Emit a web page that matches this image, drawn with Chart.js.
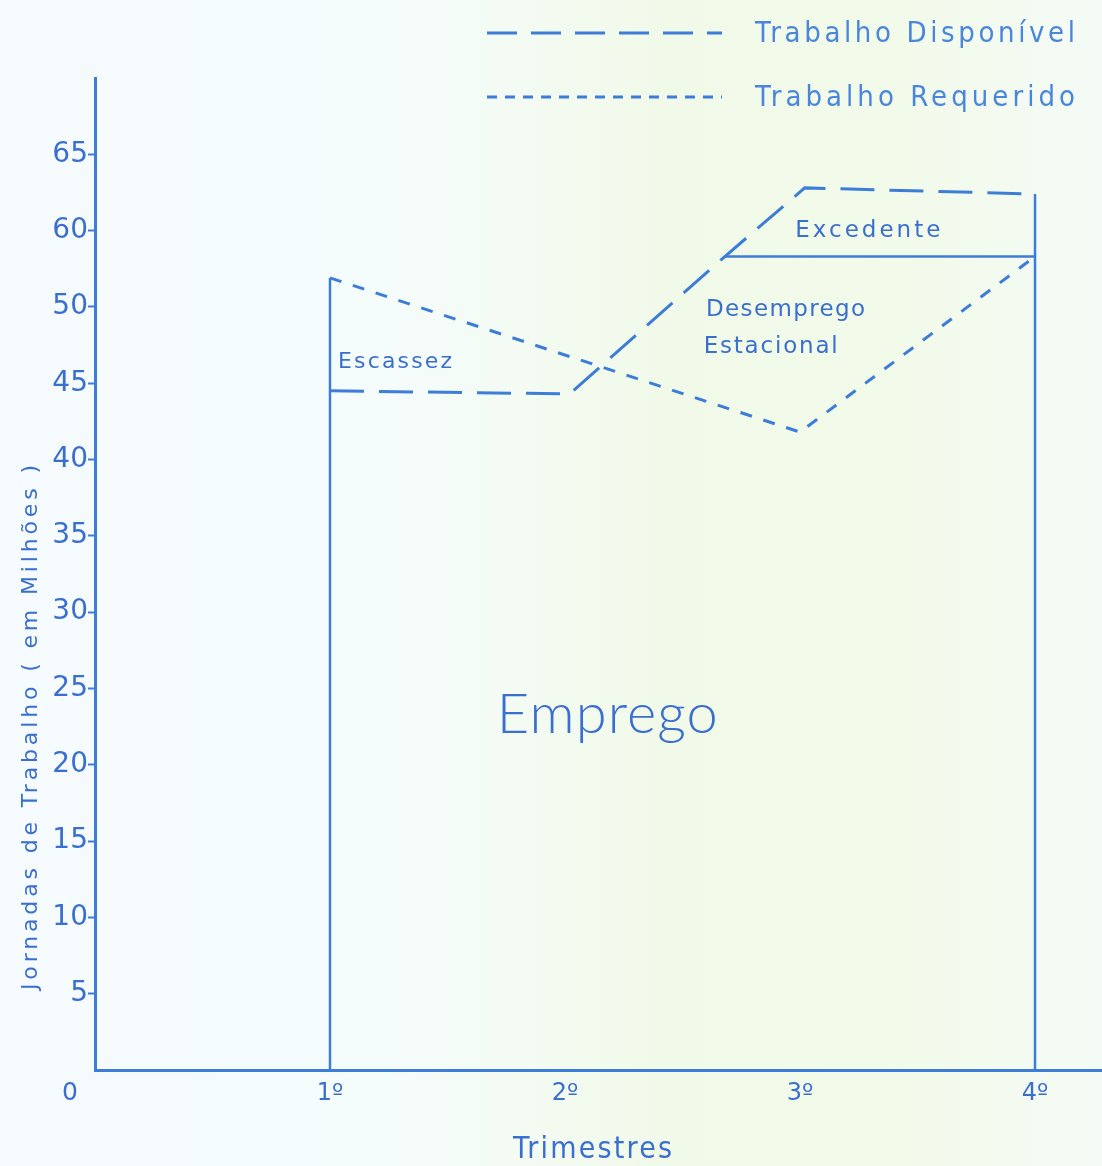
<!DOCTYPE html>
<html>
<head>
<meta charset="utf-8">
<script src="https://cdn.jsdelivr.net/npm/chart.js@4/dist/chart.umd.min.js"></script>
<style>
  html, body { margin: 0; padding: 0; background: #f5fbfd; }
  #wrap { width: 1102px; height: 1166px; }
</style>
</head>
<body>
<div id="wrap"><canvas id="chart"></canvas></div>
<script>
const quarterLabels = ['1º', '2º', '3º', '4º'];
const quarterValues = [1, 2, 3, 4];

// the scanned axis skips 55: its 11th and 12th ticks are printed 60 and 65
const yTickValues = [5, 10, 15, 20, 25, 30, 35, 40, 45, 50, 55, 60];
const yTickLabels = ['5', '10', '15', '20', '25', '30', '35', '40', '45', '50', '60', '65'];

const disponivelX = [1, 2.02, 2.68, 3.02, 4];
const disponivelY = [44.5, 44.3, 53.3, 57.8, 57.4];

const requeridoX = [1, 3, 4];
const requeridoY = [51.9, 41.8, 53.3];

// solid outline of the "Emprego" area (null = pen up)
const empregoX = [1, 1, 2, 2.68, 4, 4, 4, 4];
const empregoY = [0, 51.9, null, 53.3, 53.3, null, 0, 57.4];

const BLUE = '#3d7dd8';
const TEXT = '#3b6fcf';
const FONT = '"DejaVu Sans", sans-serif';
const NARROW = '"DejaVu Sans Condensed", "DejaVu Sans", sans-serif';

const toPoints = (xs, ys) => xs.map((x, i) => ({ x: x, y: ys[i] }));

// draw text stretched to a given width with letter spacing
function fitText(ctx, text, x, y, width, font) {
  ctx.font = font;
  ctx.letterSpacing = '0px';
  const w = ctx.measureText(text).width;
  const sp = text.length > 1 ? (width - w) / (text.length - 1) : 0;
  ctx.letterSpacing = sp + 'px';
  ctx.fillText(text, x, y);
  ctx.letterSpacing = '0px';
}

const notes = [
  { text: 'Escassez',   x: 1.034, y: 46.0, width: 114, font: '22px ' + FONT },
  { text: 'Excedente',  x: 2.98,  y: 54.6, width: 145, font: '23px ' + FONT },
  { text: 'Desemprego', x: 2.60,  y: 49.4, width: 159, font: '23px ' + FONT },
  { text: 'Estacional', x: 2.59,  y: 47.0, width: 134, font: '23px ' + FONT },
  { text: 'Emprego',    x: 1.71,  y: 22.1, width: 221, font: '300 56px Lato, ' + FONT }
];

const paper = {
  id: 'paper',
  beforeDraw(chart) {
    const { ctx, width, height } = chart;
    const g = ctx.createLinearGradient(0, 0, width, 0);
    g.addColorStop(0, '#f5fbfe');
    g.addColorStop(0.35, '#f5fcfc');
    g.addColorStop(0.6, '#f1fae9');
    g.addColorStop(0.8, '#f2fae9');
    g.addColorStop(1, '#f4fbf6');
    ctx.save();
    ctx.fillStyle = g;
    ctx.fillRect(0, 0, width, height);
    ctx.restore();
  },
  afterDraw(chart) {
    const { ctx, scales: { x, y } } = chart;
    ctx.save();
    ctx.fillStyle = TEXT;
    ctx.textBaseline = 'alphabetic';
    ctx.textAlign = 'left';

    notes.forEach(n => {
      fitText(ctx, n.text, x.getPixelForValue(n.x), y.getPixelForValue(n.y), n.width, n.font);
    });

    // legend
    const rows = [
      { ds: chart.data.datasets[0], dash: [30, 14], y: 33 },
      { ds: chart.data.datasets[1], dash: [10, 8], y: 97 }
    ];
    rows.forEach(r => {
      ctx.strokeStyle = BLUE;
      ctx.lineWidth = 3;
      ctx.setLineDash(r.dash);
      ctx.beginPath();
      ctx.moveTo(487, r.y);
      ctx.lineTo(722, r.y);
      ctx.stroke();
      ctx.setLineDash([]);
      ctx.fillStyle = '#4a86dc';
      ctx.textBaseline = 'middle';
      fitText(ctx, r.ds.label, 755, r.y + 1, 320, '29px ' + NARROW);
    });

    // origin and axis titles
    ctx.fillStyle = TEXT;
    ctx.textBaseline = 'middle';
    ctx.font = '25px ' + FONT;
    ctx.fillText('0', 62, 1093);
    fitText(ctx, 'Trimestres', 513, 1150, 159, '30px ' + NARROW);

    ctx.translate(31, 990);
    ctx.rotate(-Math.PI / 2);
    fitText(ctx, 'Jornadas de Trabalho ( em Milhões )', 0, 0, 525, '22px ' + FONT);
    ctx.restore();
  }
};

new Chart(document.getElementById('chart'), {
  type: 'line',
  data: {
    datasets: [
      {
        label: 'Trabalho Disponível',
        data: toPoints(disponivelX, disponivelY),
        borderColor: BLUE,
        borderWidth: 3,
        borderDash: [34, 15],
        pointRadius: 0,
        tension: 0
      },
      {
        label: 'Trabalho Requerido',
        data: toPoints(requeridoX, requeridoY),
        borderColor: BLUE,
        borderWidth: 3,
        borderDash: [12, 12],
        pointRadius: 0,
        tension: 0
      },
      {
        label: 'Emprego',
        data: toPoints(empregoX, empregoY),
        borderColor: BLUE,
        borderWidth: 2.5,
        pointRadius: 0,
        spanGaps: false,
        tension: 0
      }
    ]
  },
  options: {
    responsive: true,
    maintainAspectRatio: false,
    animation: false,
    layout: { padding: { top: 78, right: 0, left: 0, bottom: 0 } },
    plugins: {
      legend: { display: false },
      tooltip: { enabled: false }
    },
    scales: {
      x: {
        type: 'linear',
        min: 0,
        max: 4.285,
        afterFit(scale) { scale.height = 96; },
        afterBuildTicks(scale) {
          scale.ticks = quarterValues.map(v => ({ value: v }));
        },
        border: { color: BLUE, width: 3 },
        grid: { display: true, drawOnChartArea: false, drawTicks: false },
        ticks: {
          padding: 9,
          color: TEXT,
          font: { family: FONT, size: 24 },
          maxRotation: 0,
          callback: v => quarterLabels[quarterValues.indexOf(v)]
        }
      },
      y: {
        min: 0,
        max: 65,
        afterFit(scale) { scale.width = 95; },
        afterBuildTicks(scale) {
          scale.ticks = yTickValues.map(v => ({ value: v }));
        },
        border: { color: BLUE, width: 3 },
        grid: { display: true, drawOnChartArea: false, drawTicks: true, tickLength: 7, tickColor: BLUE, tickWidth: 2 },
        ticks: {
          padding: 0,
          color: TEXT,
          font: { family: FONT, size: 28 },
          callback: v => yTickLabels[yTickValues.indexOf(v)]
        }
      }
    }
  },
  plugins: [paper]
});
</script>
</body>
</html>
